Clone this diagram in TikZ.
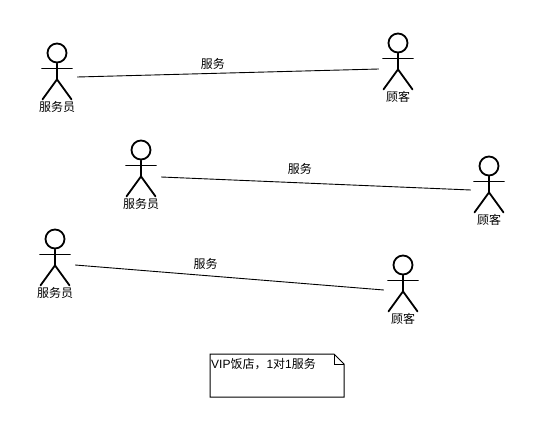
\documentclass[tikz,border=0pt]{standalone}
\usepackage{fontspec}
\setmainfont{Liberation Sans}
\newfontfamily\cjk{Noto Sans CJK SC}
\tikzset{
  limb/.style={draw=black,line width=1.8pt,line cap=round},
  head/.style={circle,draw=black,line width=1.8pt,minimum size=19pt,inner sep=0pt},
  actorbox/.style={rectangle,draw=none,inner sep=0pt,minimum height=1pt},
  caption/.style={font=\fontsize{12}{12}\selectfont\cjk,inner sep=0pt,text=black},
  link/.style={draw=black,line width=0.9pt},
  notebox/.style={draw=black,line width=1pt,fill=white}
}
% name, head x, head y, connector y, half width to connector end, label
\newcommand{\actorfig}[6]{%
  \node[head] (#1-head) at (#2,#3) {};
  \node[caption] (#1-label) at (#2,#3+54) {#6};
  \node[actorbox,minimum width=#5*2pt] (#1) at (#2,#4) {};
  \draw[limb] (#1-head.south) -- ++(0,16) coordinate (#1-hip)
     -- ++(-14.5,20);
  \draw[limb] (#1-hip) -- ++(14.5,20);
  \draw[limb] ($(#1-head.south)+(-15,5)$) -- ++(30,0);
}
\usetikzlibrary{calc}
\begin{document}
\begin{tikzpicture}[x=1pt,y=-1pt]
\useasboundingbox[fill=white] (0,0) rectangle (533,423);
\actorfig{a1}{57}{53}{77}{20}{服务员}
\actorfig{b1}{398}{43}{69}{19}{顾客}
\actorfig{a2}{141}{150}{177}{20}{服务员}
\actorfig{b2}{489}{166}{190}{18}{顾客}
\actorfig{a3}{55}{239}{265}{20}{服务员}
\actorfig{b3}{403}{265}{290}{19}{顾客}
\draw[link] (a1.east) -- node[caption,pos=0.45,yshift=9pt] (l1) {服务} (b1.west);
\draw[link] (a2.east) -- node[caption,pos=0.448,yshift=14pt] (l2) {服务} (b2.west);
\draw[link] (a3.east) -- node[caption,pos=0.423,yshift=12pt] (l3) {服务} (b3.west);
\draw[notebox] (210,354) -- (334,354) -- (344,364) -- (344,397) -- (210,397) -- cycle;
\draw[line width=1pt] (334,354) -- (334,364) -- (344,364);
\node[caption,anchor=west] (note) at (211,364) {{\rmfamily VIP}饭店，{\rmfamily 1}对{\rmfamily 1}服务};
\end{tikzpicture}
\end{document}
